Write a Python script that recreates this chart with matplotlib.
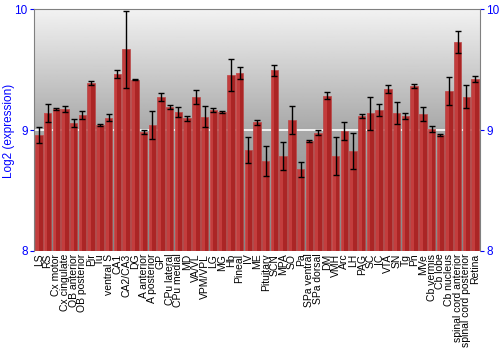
import matplotlib.pyplot as plt
import numpy as np

plt.rcParams['font.family'] = ['Liberation Sans', 'DejaVu Sans']

regions = ["LS", "RS", "Cx motor", "Cx cingulate", "OB anterior", "OB posterior",
           "Pir", "Tu", "ventral S", "CA1", "CA2/CA3", "DG", "A anterior",
           "A posterior", "GP", "CPu lateral", "CPu medial", "MD", "VA/VL",
           "VPM/VPL", "LG", "MG", "Hb", "Pineal", "IV", "ME", "Pituitary", "SCN",
           "MPA", "SO", "Pa", "SPa ventral", "SPa dorsal", "DM", "VMH", "Arc",
           "LH", "PAG", "SC", "IC", "VTA", "SN", "Tg", "Pn", "MVe", "Cb vermis",
           "Cb lobe", "Cb nucleus", "spinal cord anterior",
           "spinal cord posterior", "Retina"]
expr = [8.96, 9.143, 9.174, 9.174, 9.058, 9.124, 9.388, 9.041, 9.102, 9.463,
        9.667, 9.416, 8.986, 9.039, 9.273, 9.188, 9.149, 9.097, 9.273, 9.11,
        9.165, 9.151, 9.455, 9.468, 8.835, 9.063, 8.747, 9.493, 8.785, 9.083,
        8.675, 8.909, 8.978, 9.284, 8.788, 8.992, 8.829, 9.118, 9.138, 9.165,
        9.341, 9.138, 9.116, 9.364, 9.132, 9.008, 8.961, 9.322, 9.727, 9.275,
        9.42]
err = [0.066, 0.073, 0.01, 0.023, 0.036, 0.033, 0.017, 0.005, 0.03, 0.035,
       0.32, 0.003, 0.018, 0.115, 0.032, 0.018, 0.04, 0.022, 0.06, 0.085,
       0.015, 0.008, 0.13, 0.05, 0.109, 0.018, 0.125, 0.044, 0.117, 0.114,
       0.06, 0.012, 0.023, 0.03, 0.156, 0.078, 0.15, 0.017, 0.136, 0.052,
       0.034, 0.09, 0.026, 0.019, 0.06, 0.022, 0.008, 0.117, 0.09, 0.095,
       0.026]

fig = plt.figure(figsize=(5, 3.5), dpi=100)
ax = fig.add_axes([0.068, 0.283, 0.892, 0.691])

x = np.arange(len(regions))
ax.set_xlim(-0.55, len(regions) - 0.45)
ax.set_ylim(8, 10)

# gradient background, two bands split at 9
top = np.linspace(0.95, 0.66, 100).reshape(-1, 1)
bot = np.linspace(0.66, 0.52, 100).reshape(-1, 1)
ax.imshow(top, cmap='gray', vmin=0, vmax=1, aspect='auto',
          extent=[-0.55, len(regions) - 0.45, 9, 10], origin='upper', zorder=0)
ax.imshow(bot, cmap='gray', vmin=0, vmax=1, aspect='auto',
          extent=[-0.55, len(regions) - 0.45, 8, 9], origin='upper', zorder=0)
ax.axhline(9, color='white', lw=1.2, zorder=1)

h = np.array(expr) - 8
ax.bar(x, h, bottom=8, width=0.85, color='#ab2525', edgecolor='#bb4848',
       linewidth=0.5, zorder=2)
ax.bar(x - 0.18, h, bottom=8, width=0.35, color='#d85252', alpha=0.55,
       linewidth=0, zorder=3)
ax.errorbar(x, expr, yerr=err, fmt='none', ecolor='black', elinewidth=1,
            capsize=2, capthick=1, zorder=4)

ax.set_xticks(x)
ax.set_xticklabels(regions, rotation=90, fontsize=7.5)
ax.tick_params(axis='x', length=0, pad=2)
ax.set_yticks([8, 9, 10])
ax.tick_params(axis='y', colors='#0000ff', labelsize=8.5, length=3, pad=1.5,
               labelright=True, right=True)
for t in ax.yaxis.get_ticklines():
    t.set_color('#404040')
fig.text(0.018, 0.627, "Log2 (expression)", color='#0000ff', fontsize=8.5,
         rotation=90, ha='center', va='center')

for s in ['left', 'top', 'right']:
    ax.spines[s].set_color('#808080')
ax.spines['bottom'].set_visible(False)

fig.savefig("out.png", dpi=100)
